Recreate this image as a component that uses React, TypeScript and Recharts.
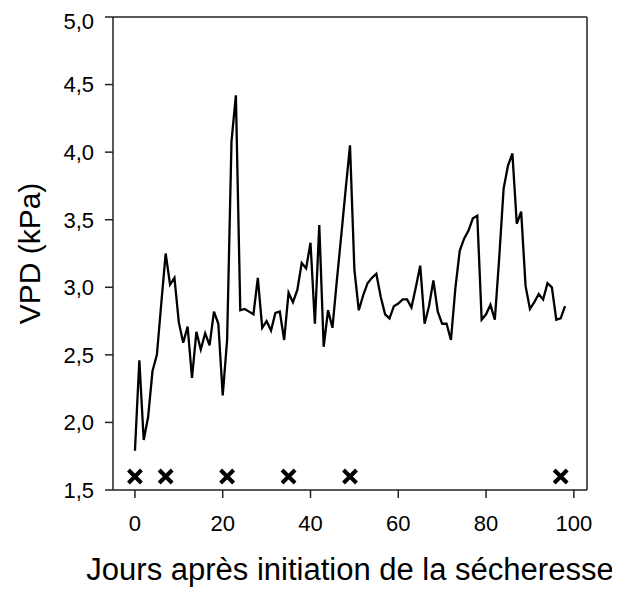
import React from 'react';
import {
  ComposedChart,
  Line,
  Scatter,
  XAxis,
  YAxis,
  ReferenceLine,
} from 'recharts';

const days: number[] = Array.from({ length: 99 }, (_, i) => i);

const vpd: number[] = [
  1.79, 2.46, 1.87, 2.04, 2.38, 2.5, 2.88, 3.25, 3.02, 3.07,
  2.74, 2.59, 2.71, 2.33, 2.67, 2.54, 2.66, 2.57, 2.82, 2.73,
  2.2, 2.61, 4.08, 4.42, 2.83, 2.84, 2.82, 2.8, 3.07, 2.7,
  2.75, 2.68, 2.81, 2.82, 2.61, 2.96, 2.89, 2.98, 3.18, 3.14,
  3.33, 2.73, 3.46, 2.56, 2.83, 2.7, 3.05, 3.38, 3.72, 4.05,
  3.13, 2.83, 2.94, 3.03, 3.07, 3.1, 2.93, 2.8, 2.77, 2.86,
  2.88, 2.91, 2.91, 2.85, 3.0, 3.16, 2.73, 2.86, 3.05, 2.82,
  2.73, 2.73, 2.61, 2.99, 3.27, 3.36, 3.42, 3.51, 3.53, 2.76,
  2.8, 2.87, 2.76, 3.22, 3.73, 3.9, 3.99, 3.47, 3.56, 3.01,
  2.84, 2.89, 2.95, 2.91, 3.03, 3.0, 2.76, 2.77, 2.86,
];

const markerDays: number[] = [0, 7, 21, 35, 49, 97];
const markerLevel = 1.6;

const xTicks: number[] = [0, 20, 40, 60, 80, 100];
const yTicks: number[] = [1.5, 2.0, 2.5, 3.0, 3.5, 4.0, 4.5, 5.0];

const lineData = days.map((d, i) => ({ day: d, vpd: vpd[i] }));
const markerData = markerDays.map((d) => ({ day: d, vpd: markerLevel }));

const FONT = '"Liberation Sans", Arial, sans-serif';

const XMark = (props: any) => {
  const { cx, cy } = props;
  if (cx == null || cy == null) return null;
  const h = 6.5;
  return (
    <path
      d={`M${cx - h},${cy - h}L${cx + h},${cy + h}M${cx - h},${cy + h}L${cx + h},${cy - h}`}
      stroke="#000"
      strokeWidth={4}
      fill="none"
    />
  );
};

export default function App() {
  return (
    <div style={{ width: 612, height: 582, background: '#fff', fontFamily: FONT }}>
      <ComposedChart
        width={612}
        height={582}
        margin={{ top: 9, right: 33, left: 10, bottom: 10 }}
      >
        <XAxis
          dataKey="day"
          type="number"
          domain={[-5, 103]}
          ticks={xTicks}
          allowDataOverflow
          height={90}
          stroke="#222"
          strokeWidth={1.5}
          tickSize={8}
          tickMargin={17}
          tick={{ fill: '#000', fontSize: 22, fontFamily: FONT }}
          label={{
            value: 'Jours après initiation de la sécheresse',
            position: 'insideBottom',
            offset: 0,
            fill: '#000',
            fontSize: 31,
            fontFamily: FONT,
          }}
        />
        <YAxis
          type="number"
          domain={[1.5, 5]}
          ticks={yTicks}
          allowDataOverflow
          width={95}
          stroke="#222"
          strokeWidth={1.5}
          tickSize={8}
          tickMargin={11}
          tick={{ fill: '#000', fontSize: 22, fontFamily: FONT }}
          tickFormatter={(v: number) => v.toFixed(1).replace('.', ',')}
          label={{
            value: 'VPD (kPa)',
            angle: -90,
            position: 'insideLeft',
            offset: 11,
            fill: '#000',
            fontSize: 30,
            fontFamily: FONT,
            style: { textAnchor: 'middle' },
          }}
        />
        <ReferenceLine y={5} stroke="#222" strokeWidth={1.5} />
        <ReferenceLine x={103} stroke="#222" strokeWidth={1.5} />
        <Line
          data={lineData}
          dataKey="vpd"
          type="linear"
          stroke="#000"
          strokeWidth={2.3}
          dot={false}
          isAnimationActive={false}
        />
        <Scatter
          data={markerData}
          dataKey="vpd"
          shape={XMark}
          isAnimationActive={false}
        />
      </ComposedChart>
    </div>
  );
}
